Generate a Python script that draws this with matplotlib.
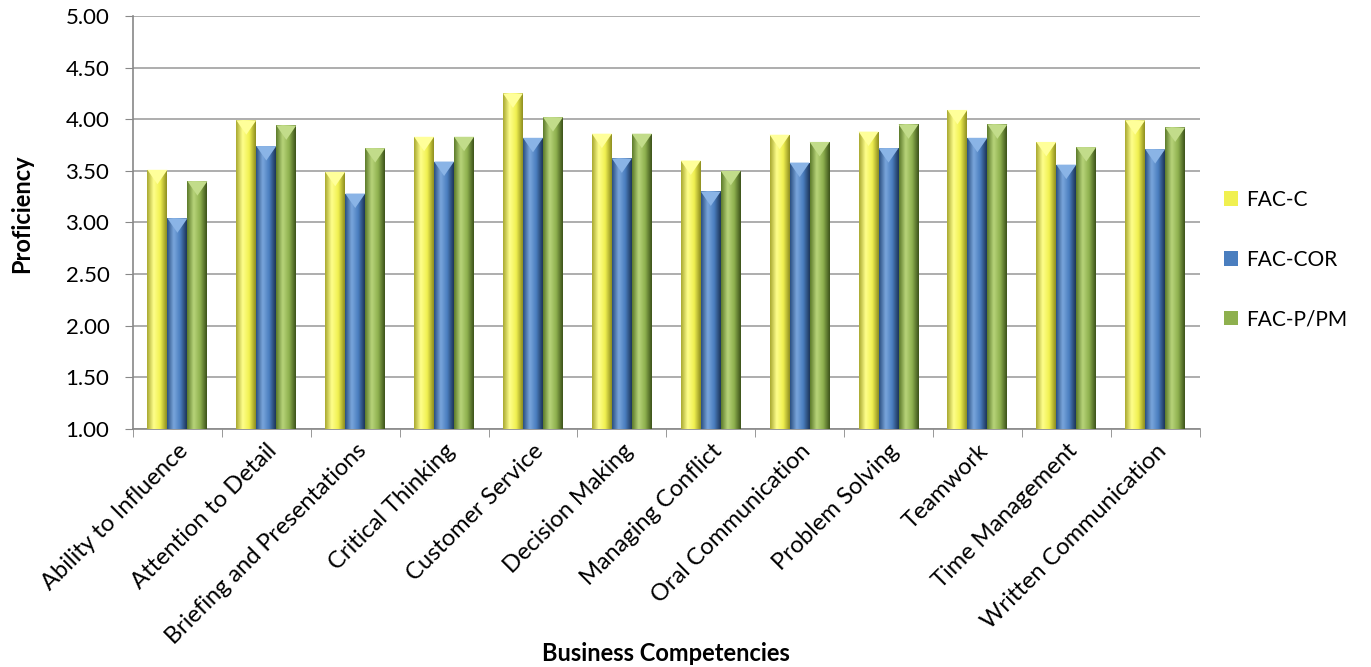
"""Business competency proficiency by group, Excel-style 3D bars."""
import numpy as np
import matplotlib
matplotlib.use('Agg')
import matplotlib.pyplot as plt
from matplotlib.colors import LinearSegmentedColormap
from matplotlib.patches import Polygon

plt.rcParams['font.family'] = ['Lato', 'DejaVu Sans']

competencies = ['Ability to Influence', 'Attention to Detail', 'Briefing and Presentations',
                'Critical Thinking', 'Customer Service', 'Decision Making', 'Managing Conflict',
                'Oral Communication', 'Problem Solving', 'Teamwork', 'Time Management',
                'Written Communication']
fac_c = [3.51, 3.99, 3.49, 3.83, 4.25, 3.86, 3.60, 3.85, 3.88, 4.09, 3.78, 3.99]
fac_cor = [3.04, 3.74, 3.28, 3.59, 3.82, 3.62, 3.30, 3.58, 3.72, 3.82, 3.56, 3.71]
fac_ppm = [3.40, 3.94, 3.72, 3.83, 4.02, 3.86, 3.50, 3.78, 3.95, 3.95, 3.73, 3.92]
series_names = ['FAC-C', 'FAC-COR', 'FAC-P/PM']

# dark edge, light highlight, base, dark edge
palettes = {
    'FAC-C': ['#a8a830', '#ffff8c', '#f0f050', '#8e8e20'],
    'FAC-COR': ['#2a4f80', '#7aa6dc', '#4a7ebf', '#1c3558'],
    'FAC-P/PM': ['#5c7a2a', '#b8d47a', '#8eb04e', '#3c521a'],
}
tip_colors = {'FAC-C': '#ffff9a', 'FAC-COR': '#8ab4e6', 'FAC-P/PM': '#c2dc8a'}

fig = plt.figure(figsize=(13.71, 6.67), dpi=100)
ax = fig.add_axes([0.097, 0.357, 0.778, 0.619])

x = np.arange(len(competencies))
width = 0.225
offsets = [-width, 0, width]
ymin = 1.0

for name, vals, off in zip(series_names, [fac_c, fac_cor, fac_ppm], offsets):
    cmap = LinearSegmentedColormap.from_list(name, palettes[name])
    grad = np.linspace(0, 1, 64).reshape(1, -1)
    bars = ax.bar(x + off, np.array(vals) - ymin, width, bottom=ymin,
                  color=palettes[name][2], label=name, zorder=3, linewidth=0)
    for bar in bars:
        bx, by = bar.get_x(), bar.get_y()
        bw, bh = bar.get_width(), bar.get_height()
        im = ax.imshow(grad, cmap=cmap, aspect='auto', extent=(bx, bx + bw, by, by + bh),
                       zorder=3.5, interpolation='bicubic')
        im.set_clip_path(bar)
        top = by + bh
        tip = Polygon([(bx, top), (bx + bw, top), (bx + bw * 0.5, top - 0.14)],
                      closed=True, facecolor=tip_colors[name], edgecolor='none', zorder=4)
        ax.add_patch(tip)

ax.set_xlim(-0.5, len(competencies) - 0.5)
ax.set_ylim(1.0, 5.0)
ax.set_yticks(np.arange(1.0, 5.01, 0.5))
ax.set_yticklabels([f'{v:.2f}' for v in np.arange(1.0, 5.01, 0.5)], fontsize=16)
ax.yaxis.grid(True, color='#a0a0a0', linewidth=1.2, zorder=0)
ax.set_axisbelow(True)

ax.set_xticks(x)
ax.set_xticklabels(competencies, rotation=45, ha='right', rotation_mode='anchor', fontsize=17)
ax.tick_params(axis='x', length=0, pad=8)
ax.set_xticks(np.arange(-0.5, len(competencies), 1.0), minor=True)
ax.tick_params(axis='x', which='minor', length=6, color='#888888')
ax.tick_params(axis='y', length=6, color='#888888', pad=11)

for side in ['top', 'right']:
    ax.spines[side].set_visible(False)
for side in ['left', 'bottom']:
    ax.spines[side].set_color('#888888')
    ax.spines[side].set_linewidth(1.2)

ax.set_ylabel('Proficiency', fontsize=17, fontweight='bold')
ax.yaxis.set_label_coords(-0.094, 0.52)
ax.set_xlabel('Business Competencies', fontsize=17, fontweight='bold')
ax.xaxis.set_label_coords(0.5, -0.515)

ax.legend(loc='center left', bbox_to_anchor=(1.005, 0.41), frameon=False, fontsize=15,
          handlelength=0.7, handleheight=0.7, handletextpad=0.4, labelspacing=1.9)

fig.savefig('out.png', dpi=100)
